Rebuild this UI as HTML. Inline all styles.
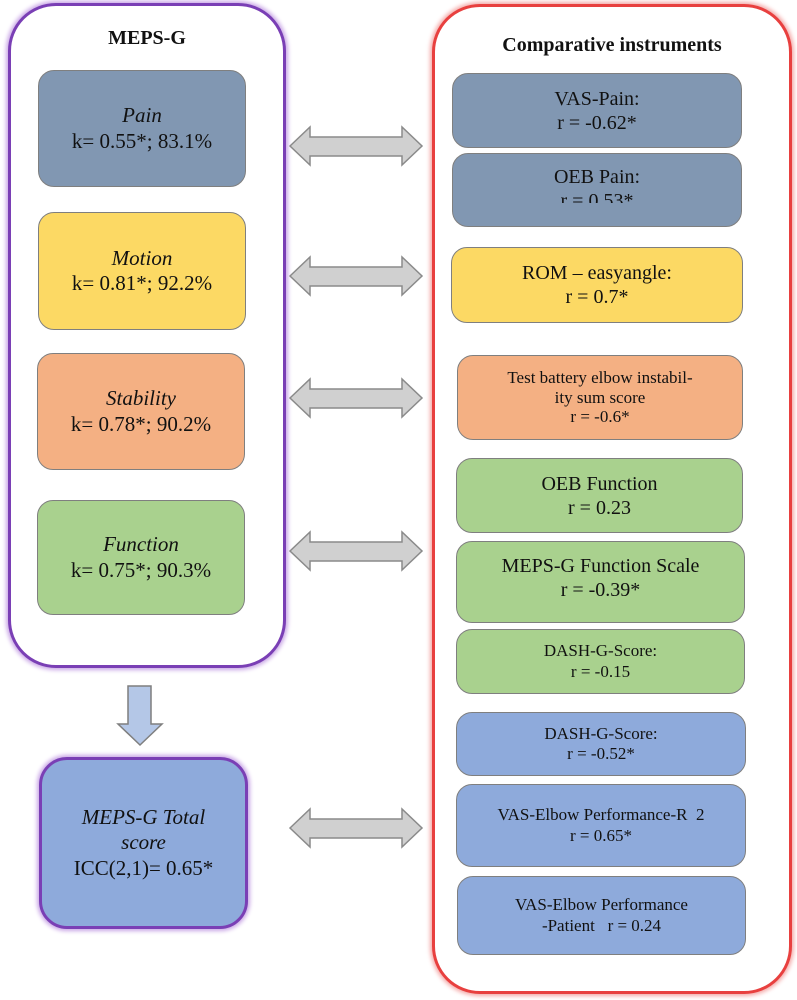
<!DOCTYPE html>
<html><head><meta charset="utf-8"><style>
body{margin:0;width:797px;height:1000px;background:#fff;position:relative;overflow:hidden;font-family:"Liberation Serif",serif;color:#111}
.c{position:absolute;box-sizing:border-box;background:#fff}
.b{position:absolute;box-sizing:border-box;border:1.5px solid #7f7f7f;border-radius:16px;display:flex;flex-direction:column;align-items:center;justify-content:center;text-align:center;line-height:1.2}
.L{font-size:21px}
.R{font-size:20px}
.S{font-size:17px}
i{font-style:italic}
.bl{background:#8197b2}.ye{background:#fcd964}.or{background:#f4b083}.gr{background:#a9d18e}.bu{background:#8eaadb}
h1{position:absolute;margin:0;font-size:20px;font-weight:bold;text-align:center}
svg{position:absolute;left:0;top:0}
</style></head><body>
<div class="c" style="left:8px;top:3px;width:278px;height:665px;border:3px solid #7a3fb5;border-radius:48px;box-shadow:0 0 4px 2px #c9a6e6"></div>
<div class="c" style="left:432px;top:4px;width:360px;height:990px;border:3px solid #e8403f;border-radius:48px;box-shadow:0 0 4px 2px #f4a9a8"></div>
<h1 style="left:8px;top:27px;width:278px">MEPS-G</h1>
<h1 style="left:432px;top:34px;width:360px">Comparative instruments</h1>

<div class="b L bl" style="left:38px;top:70px;width:208px;height:117px"><i>Pain</i>k= 0.55*; 83.1%</div>
<div class="b L ye" style="left:38px;top:212px;width:208px;height:118px"><i>Motion</i>k= 0.81*; 92.2%</div>
<div class="b L or" style="left:37px;top:353px;width:208px;height:117px"><i>Stability</i>k= 0.78*; 90.2%</div>
<div class="b L gr" style="left:37px;top:500px;width:208px;height:115px"><i>Function</i>k= 0.75*; 90.3%</div>
<div class="b L bu" style="left:39px;top:757px;width:209px;height:172px;border:3px solid #7a3fb5;border-radius:28px;box-shadow:0 0 4px 2px #c9a6e6"><i>MEPS-G Total</i><i>score</i>ICC(2,1)= 0.65*</div>

<div class="b R bl" style="left:452px;top:73px;width:290px;height:75px">VAS-Pain:<br>r = -0.62*</div>
<div class="b R bl" style="left:452px;top:153px;width:290px;height:74px;justify-content:flex-start;padding-top:11px;overflow:hidden"><div>OEB Pain:</div><div style="height:14px;overflow:hidden">r = 0.53*</div></div>
<div class="b R ye" style="left:451px;top:247px;width:292px;height:76px">ROM – easyangle:<br>r = 0.7*</div>
<div class="b S or" style="left:457px;top:355px;width:286px;height:85px;line-height:1.15">Test battery elbow instabil-<br>ity sum score<br>r = -0.6*</div>
<div class="b R gr" style="left:456px;top:458px;width:287px;height:75px">OEB Function<br>r = 0.23</div>
<div class="b R gr" style="left:456px;top:541px;width:289px;height:82px;justify-content:flex-start;padding-top:12px">MEPS-G Function Scale<br>r = -0.39*</div>
<div class="b S gr" style="left:456px;top:629px;width:289px;height:65px">DASH-G-Score:<br>r = -0.15</div>
<div class="b S bu" style="left:456px;top:712px;width:290px;height:64px">DASH-G-Score:<br>r = -0.52*</div>
<div class="b S bu" style="left:456px;top:784px;width:290px;height:83px">VAS-Elbow Performance-R&nbsp; 2<br>r = 0.65*</div>
<div class="b S bu" style="left:457px;top:876px;width:289px;height:79px">VAS-Elbow Performance<br>-Patient&nbsp;&nbsp; r = 0.24</div>

<svg width="797" height="1000">
<g fill="#d0d0d0" stroke="#8a8a8a" stroke-width="1.5">
<path id="a" d="M290 146 L310 127 L310 137 L402 137 L402 127 L422 146 L402 165 L402 156 L310 156 L310 165 Z"/>
<use href="#a" y="130"/>
<use href="#a" y="252"/>
<use href="#a" y="405"/>
<use href="#a" y="682"/>
</g>
<path d="M128 686 L151 686 L151 724 L162 724 L140 745 L118 724 L128 724 Z" fill="#b4c7e7" stroke="#7f7f7f" stroke-width="1.5"/>
</svg>
</body></html>
